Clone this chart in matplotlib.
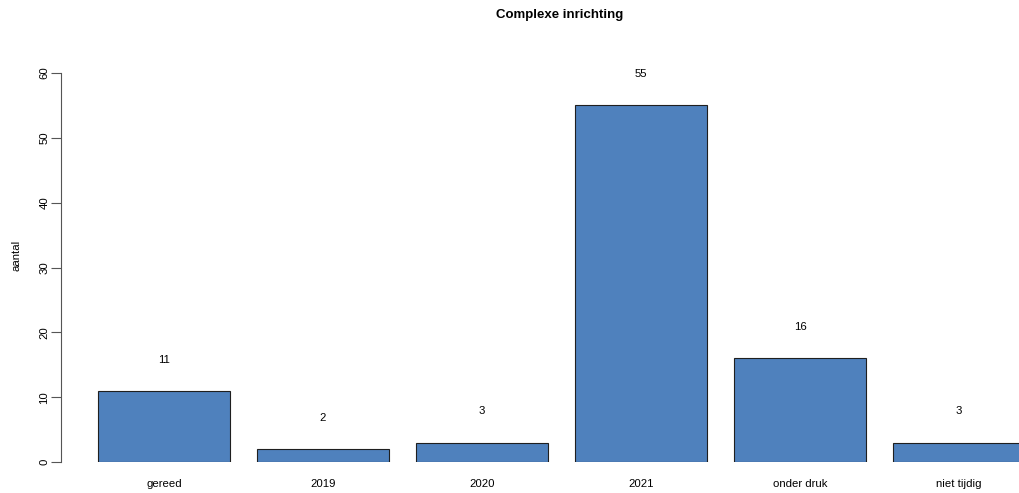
import matplotlib
matplotlib.use("Agg")
import matplotlib.pyplot as plt

categories = ["gereed", "2019", "2020", "2021", "onder druk", "niet tijdig"]
values = [11, 2, 3, 55, 16, 3]
yticks = [0, 10, 20, 30, 40, 50, 60]

plt.rcParams['font.family'] = ['Liberation Sans', 'DejaVu Sans']

W, H = 1020, 493
fig = plt.figure(figsize=(W/100, H/100), dpi=100)
left_px, right_px = 61, 1020
top_px, bot_px = 73, 462
ax = fig.add_axes([left_px/W, (H-bot_px)/H, (right_px-left_px)/W, (bot_px-top_px)/H])

x = list(range(len(categories)))
ax.bar(x, values, width=132/159, color="#4F81BD", edgecolor="#1f1f1f", linewidth=0.8, clip_on=True)
for xi, v in zip(x, values):
    ax.text(xi, v + 4.8, str(v), ha="center", va="center", fontsize=8.2, clip_on=False)

ax.set_xlim((left_px-164)/159, (right_px-164)/159)
ax.set_ylim(0, 60)
for s in ["top", "right", "bottom"]:
    ax.spines[s].set_visible(False)
ax.spines["left"].set_bounds(0, 60)
ax.spines["left"].set_color("#555555")
ax.spines["left"].set_linewidth(0.8)
ax.set_yticks(yticks)
ax.set_yticklabels([str(t) for t in yticks], rotation=90, va="center", fontsize=8.2)
ax.tick_params(axis="y", length=7, width=0.8, color="#555555", pad=1.5)
ax.set_xticks(x)
ax.set_xticklabels(categories, fontsize=8.2)
ax.tick_params(axis="x", length=0, pad=12)

fig.text(17/W, 1-255/H, "aantal", rotation=90, ha="center", va="center", fontsize=8.2)
fig.text(560/W, 1-15/H, "Complexe inrichting", ha="center", va="center", fontsize=9.5, fontweight="bold")

fig.savefig("out.png", dpi=100)
